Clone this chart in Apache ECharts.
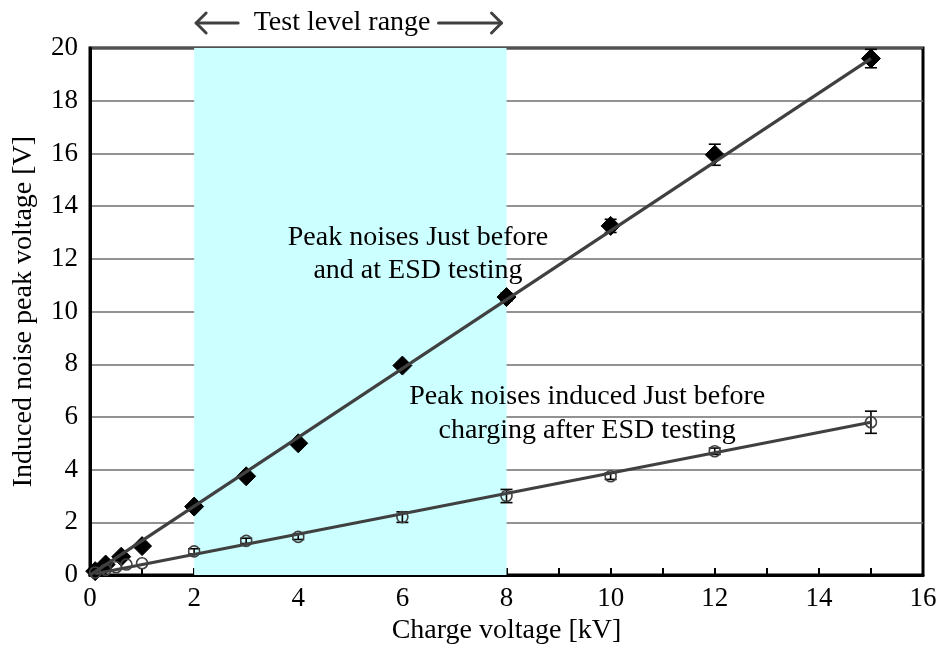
<!DOCTYPE html>
<html>
<head>
<meta charset="utf-8">
<script src="https://cdn.jsdelivr.net/npm/echarts@6/dist/echarts.min.js"></script>
<style>
  html, body { margin: 0; padding: 0; background: #fff; }
  #chart { width: 940px; height: 650px; }
</style>
</head>
<body>
<div id="chart"></div>
<script>
// Peak noise measured during ESD testing vs. charge voltage
const chargeDiamond = [0.1, 0.3, 0.6, 1, 2, 3, 4, 6, 8, 10, 12, 15];
const noiseDiamond  = [0.15, 0.4, 0.7, 1.1, 2.6, 3.75, 5.0, 7.95, 10.55, 13.25, 15.95, 19.6];
const errDiamond    = [0, 0, 0, 0, 0.1, 0.1, 0.1, 0.1, 0.15, 0.25, 0.4, 0.35];

// Peak noise induced just before charging after ESD testing
const chargeCircle = [0.1, 0.3, 0.5, 0.7, 1, 2, 3, 4, 6, 8, 10, 12, 15];
const noiseCircle  = [0.1, 0.2, 0.3, 0.4, 0.45, 0.9, 1.3, 1.45, 2.2, 3.0, 3.75, 4.7, 5.8];
const errCircle    = [0, 0, 0, 0, 0, 0.1, 0.1, 0.1, 0.2, 0.25, 0.12, 0.12, 0.42];

// Linear fit lines (end points)
const fitDiamondX = [0, 15];
const fitDiamondY = [0, 19.6];
const fitCircleX  = [0.1, 15];
const fitCircleY  = [0.05, 5.8];

// Test level range on the charge-voltage axis
const testRange = [2, 8];

const xTicks = [0, 16, 2];
const yTicks = [0, 20, 2];

const FONT = '"Liberation Serif", "Times New Roman", serif';
const INK = '#404040';

function zip(xs, ys) { return xs.map((x, i) => [x, ys[i]]); }
function zipErr(xs, ys, es) { return xs.map((x, i) => [x, ys[i] - es[i], ys[i] + es[i]]); }

function errorBarItem(params, api) {
  const x = api.value(0);
  const lo = api.coord([x, api.value(1)]);
  const hi = api.coord([x, api.value(2)]);
  if (Math.abs(hi[1] - lo[1]) < 2) return null;
  const w = 6;
  const style = { stroke: '#000', lineWidth: 1.6, fill: null };
  return {
    type: 'group',
    children: [
      { type: 'line', shape: { x1: lo[0], y1: lo[1], x2: hi[0], y2: hi[1] }, style },
      { type: 'line', shape: { x1: lo[0] - w, y1: lo[1], x2: lo[0] + w, y2: lo[1] }, style },
      { type: 'line', shape: { x1: hi[0] - w, y1: hi[1], x2: hi[0] + w, y2: hi[1] }, style }
    ]
  };
}

const chart = echarts.init(document.getElementById('chart'), null, { renderer: 'canvas' });

const option = {
  animation: false,
  backgroundColor: '#fff',
  grid: {
    left: 90, right: 17, top: 48, bottom: 72,
    show: true, borderColor: '#000', borderWidth: 3, backgroundColor: 'transparent'
  },
  xAxis: {
    type: 'value',
    min: xTicks[0], max: xTicks[1], interval: xTicks[2],
    name: 'Charge voltage [kV]',
    nameLocation: 'middle', nameGap: 40,
    nameTextStyle: { fontFamily: FONT, fontSize: 28, color: '#000' },
    axisLine: { lineStyle: { color: '#000', width: 3 } },
    axisTick: { show: true, inside: true, length: 7, lineStyle: { color: '#000', width: 2 } },
    minorTick: { show: true, splitNumber: 2, length: 7, lineStyle: { color: '#000', width: 2 } },
    axisLabel: { fontFamily: FONT, fontSize: 27, color: '#000', margin: 10 },
    splitLine: { show: false }
  },
  yAxis: {
    type: 'value',
    min: yTicks[0], max: yTicks[1], interval: yTicks[2],
    name: 'Induced noise peak voltage [V]',
    nameLocation: 'middle', nameGap: 52,
    nameTextStyle: { fontFamily: FONT, fontSize: 28, color: '#000' },
    axisLine: { lineStyle: { color: '#000', width: 3 } },
    axisTick: { show: false },
    axisLabel: { fontFamily: FONT, fontSize: 27, color: '#000', margin: 12 },
    splitLine: { show: true, lineStyle: { color: '#6e6e6e', width: 1.5 } }
  },
  series: [
    {
      name: 'range',
      type: 'line',
      data: [],
      silent: true,
      markArea: {
        silent: true,
        itemStyle: { color: '#ccffff' },
        data: [[{ xAxis: testRange[0] }, { xAxis: testRange[1] }]]
      },
      z: 1
    },
    {
      name: 'errDiamond',
      type: 'custom',
      renderItem: errorBarItem,
      data: zipErr(chargeDiamond, noiseDiamond, errDiamond),
      z: 3
    },
    {
      name: 'errCircle',
      type: 'custom',
      renderItem: errorBarItem,
      data: zipErr(chargeCircle, noiseCircle, errCircle),
      z: 3
    },
    {
      name: 'Peak noises Just before and at ESD testing',
      type: 'scatter',
      symbol: 'diamond',
      symbolSize: 19,
      itemStyle: { color: '#000', borderColor: '#000', borderWidth: 1, opacity: 1 },
      data: zip(chargeDiamond, noiseDiamond),
      z: 4
    },
    {
      name: 'Peak noises induced Just before charging after ESD testing',
      type: 'scatter',
      symbol: 'circle',
      symbolSize: 11,
      itemStyle: { color: 'rgba(0,0,0,0)', borderColor: INK, borderWidth: 1.6, opacity: 1 },
      data: zip(chargeCircle, noiseCircle),
      z: 4
    },
    {
      name: 'fitDiamond',
      type: 'line',
      showSymbol: false,
      lineStyle: { color: INK, width: 3.2 },
      data: zip(fitDiamondX, fitDiamondY),
      z: 5
    },
    {
      name: 'fitCircle',
      type: 'line',
      showSymbol: false,
      lineStyle: { color: INK, width: 3.2 },
      data: zip(fitCircleX, fitCircleY),
      z: 5
    }
  ]
};

chart.setOption(option);

// Annotations placed in data coordinates
function px(pt) { return chart.convertToPixel({ gridIndex: 0 }, pt); }

const noteStyle = { fontFamily: FONT, fontSize: 28, fill: '#000', align: 'center', verticalAlign: 'middle' };
const a1 = px([6.3, 12.8]);
const a2 = px([6.3, 11.55]);
const b1 = px([9.55, 6.78]);
const b2 = px([9.55, 5.5]);

const left = px([testRange[0], 20]);
const right = px([testRange[1], 20]);
const titleY = 23;
const mid = left[0] + 148;
const arrowStyle = { stroke: INK, lineWidth: 3, fill: null, lineCap: 'round', lineJoin: 'round' };
const ah = 10;
const lx0 = left[0] + 2, lx1 = left[0] + 44;
const rx0 = right[0] - 68, rx1 = right[0] - 5;

chart.setOption({
  graphic: [
    { type: 'text', x: a1[0], y: a1[1], style: Object.assign({ text: 'Peak noises Just before' }, noteStyle), z: 10 },
    { type: 'text', x: a2[0], y: a2[1], style: Object.assign({ text: 'and at ESD testing' }, noteStyle), z: 10 },
    { type: 'text', x: b1[0], y: b1[1], style: Object.assign({ text: 'Peak noises induced Just before' }, noteStyle), z: 10 },
    { type: 'text', x: b2[0], y: b2[1], style: Object.assign({ text: 'charging after ESD testing' }, noteStyle), z: 10 },
    { type: 'text', x: mid, y: titleY, style: Object.assign({ text: 'Test level range' }, noteStyle), z: 10 },
    // left arrow
    { type: 'line', shape: { x1: lx0, y1: titleY, x2: lx1, y2: titleY }, style: arrowStyle, z: 10 },
    { type: 'polyline', shape: { points: [[lx0 + ah, titleY - ah], [lx0, titleY], [lx0 + ah, titleY + ah]] }, style: arrowStyle, z: 10 },
    // right arrow
    { type: 'line', shape: { x1: rx0, y1: titleY, x2: rx1, y2: titleY }, style: arrowStyle, z: 10 },
    { type: 'polyline', shape: { points: [[rx1 - ah, titleY - ah], [rx1, titleY], [rx1 - ah, titleY + ah]] }, style: arrowStyle, z: 10 }
  ]
});
</script>
</body>
</html>
